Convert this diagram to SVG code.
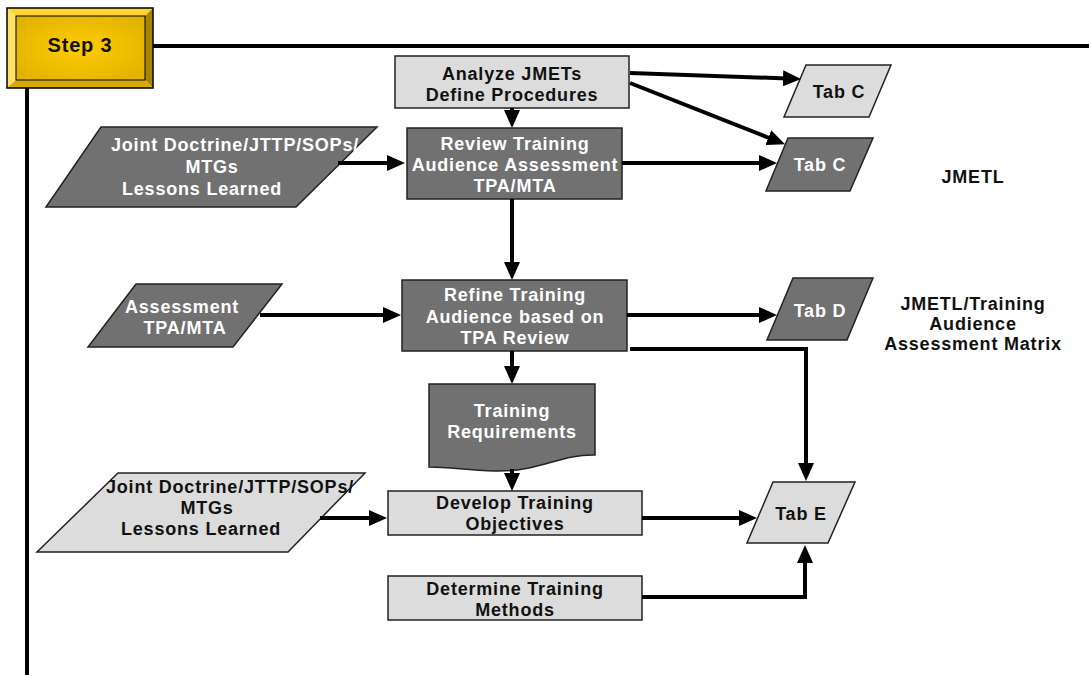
<svg xmlns="http://www.w3.org/2000/svg" width="1089" height="675" viewBox="0 0 1089 675">
  <defs>
    <radialGradient id="goldFace" cx="50%" cy="50%" r="60%">
      <stop offset="0" stop-color="#ffcc00"/>
      <stop offset="1" stop-color="#e2b400"/>
    </radialGradient>
    <marker id="arrow" markerUnits="userSpaceOnUse" markerWidth="18" markerHeight="16" refX="10" refY="8" orient="auto">
      <path d="M0,0 L18,8 L0,16 Z" fill="#000"/>
    </marker>
  </defs>
  <style>
    .light { fill: #dcdcdc; stroke: #222; stroke-width: 1.5; }
    .dark { fill: #717171; stroke: #222; stroke-width: 1.5; }
    text { font-family: "Liberation Sans", Arial, sans-serif; font-weight: bold; font-size: 18px; letter-spacing: 0.8px; text-anchor: middle; }
    .tl { fill: #111; }
    .td { fill: #fff; }
    .frame { stroke: #000; stroke-width: 4; fill: none; }
    .conn path { stroke: #000; stroke-width: 4; fill: none; marker-end: url(#arrow); }
  </style>

  <rect width="1089" height="675" fill="#fff"/>

  <!-- frame rules -->
  <line class="frame" x1="153" y1="46" x2="1089" y2="46"/>
  <line class="frame" x1="27" y1="88" x2="27" y2="675"/>

  <!-- step badge -->
  <g id="step3">
    <rect x="16" y="16" width="129" height="64" fill="url(#goldFace)"/>
    <polygon points="7,8 153,8 145,16 16,16" fill="#ffd633"/>
    <polygon points="7,8 16,16 16,80 7,88" fill="#ffe166"/>
    <polygon points="153,8 153,88 145,80 145,16" fill="#a68600"/>
    <polygon points="7,88 16,80 145,80 153,88" fill="#d8aa00"/>
    <rect x="7" y="8" width="146" height="80" fill="none" stroke="#000" stroke-width="1.5"/>
    <rect x="16" y="16" width="129" height="64" fill="none" stroke="#000" stroke-width="1"/>
    <text x="80" y="52" style="font-size:20px" class="tl">Step 3</text>
  </g>

  <g id="analyze">
    <rect class="light" x="395" y="56" width="234" height="52"/>
    <text class="tl" x="512" y="80">Analyze JMETs</text>
    <text class="tl" x="512" y="101">Define Procedures</text>
  </g>

  <g id="review">
    <rect class="dark" x="407" y="128" width="215" height="71"/>
    <text class="td" x="515" y="150">Review Training</text>
    <text class="td" x="515" y="171">Audience Assessment</text>
    <text class="td" x="515" y="192">TPA/MTA</text>
  </g>

  <g id="tabC1">
    <polygon class="light" points="806,65 891,65 869,117 784,117"/>
    <text class="tl" x="839" y="98">Tab C</text>
  </g>

  <g id="tabC2">
    <polygon class="dark" points="788,138 873,138 850,191 766,191"/>
    <text class="td" x="820" y="171">Tab C</text>
  </g>

  <g id="jmetl">
    <text class="tl" x="973" y="183">JMETL</text>
  </g>

  <g id="doctrine1">
    <polygon class="dark" points="101,127 377,127 296,207 46,207"/>
    <text class="td" x="235" y="151">Joint Doctrine/JTTP/SOPs/</text>
    <text class="td" x="212" y="173">MTGs</text>
    <text class="td" x="202" y="195">Lessons Learned</text>
  </g>

  <g id="assessment">
    <polygon class="dark" points="136,284 282,284 233,347 88,347"/>
    <text class="td" x="182" y="313">Assessment</text>
    <text class="td" x="185" y="334">TPA/MTA</text>
  </g>

  <g id="refine">
    <rect class="dark" x="402" y="280" width="225" height="71"/>
    <text class="td" x="515" y="301">Refine Training</text>
    <text class="td" x="515" y="323">Audience based on</text>
    <text class="td" x="515" y="344">TPA Review</text>
  </g>

  <g id="tabD">
    <polygon class="dark" points="793,278 873,278 847,340 767,340"/>
    <text class="td" x="820" y="317">Tab D</text>
  </g>

  <g id="matrix">
    <text class="tl" x="973" y="310">JMETL/Training</text>
    <text class="tl" x="973" y="330">Audience</text>
    <text class="tl" x="973" y="350">Assessment Matrix</text>
  </g>

  <g id="requirements">
    <path class="dark" d="M429,384 H595 V455 C560,454 540,472 495,471 C465,470 450,467 429,467 Z"/>
    <text class="td" x="512" y="417">Training</text>
    <text class="td" x="512" y="438">Requirements</text>
  </g>

  <g id="doctrine2">
    <polygon class="light" points="118,473 365,473 288,552 37,552"/>
    <text class="tl" x="230" y="493">Joint Doctrine/JTTP/SOPs/</text>
    <text class="tl" x="207" y="514">MTGs</text>
    <text class="tl" x="201" y="535">Lessons Learned</text>
  </g>

  <g id="develop">
    <rect class="light" x="388" y="491" width="254" height="44"/>
    <text class="tl" x="515" y="509">Develop Training</text>
    <text class="tl" x="515" y="530">Objectives</text>
  </g>

  <g id="determine">
    <rect class="light" x="388" y="576" width="254" height="44"/>
    <text class="tl" x="515" y="595">Determine Training</text>
    <text class="tl" x="515" y="616">Methods</text>
  </g>

  <g id="tabE">
    <polygon class="light" points="773,482 855,482 828,543 747,543"/>
    <text class="tl" x="801" y="520">Tab E</text>
  </g>

  <!-- connectors -->
  <g id="connectors" class="conn">
    <path d="M512,108 V120"/>
    <path d="M630,73 L793,78.7"/>
    <path d="M630,83 L777.6,141.3"/>
    <path d="M338,163 H397"/>
    <path d="M622,163 H769"/>
    <path d="M512,199 V272"/>
    <path d="M260,315 H393"/>
    <path d="M627,315 H769"/>
    <path d="M630,349 H806 V473"/>
    <path d="M512,351 V376"/>
    <path d="M512,469 V483"/>
    <path d="M320,518 H379"/>
    <path d="M642,518 H749"/>
    <path d="M642,597 H805 V553"/>
  </g>
</svg>
